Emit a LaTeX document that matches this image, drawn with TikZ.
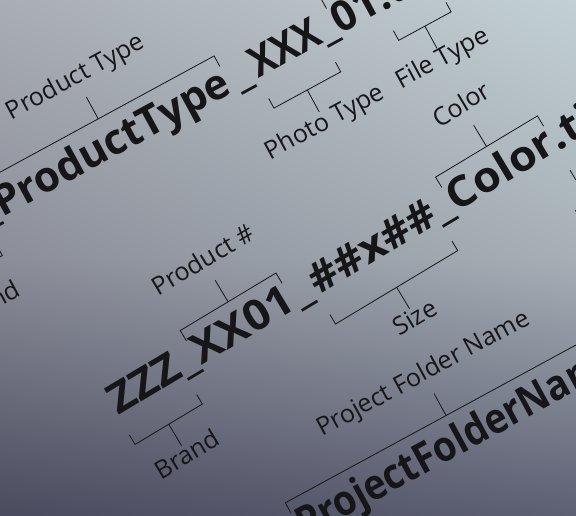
\documentclass[tikz,border=0pt]{standalone}
\usepackage{fontspec}
\setsansfont{Open Sans}
\newfontfamily\namewide{Open Sans}[FakeStretch=1.07]
\newfontfamily\namenarrow{Open Sans}[FakeStretch=0.9]
\usetikzlibrary{calc,shadings}
\definecolor{BgTopL}{HTML}{A9ADB4}
\definecolor{BgTopR}{HTML}{C2D0D4}
\definecolor{BgMidL}{HTML}{8B8E99}
\definecolor{BgMidR}{HTML}{A6AFB6}
\definecolor{BgLowL}{HTML}{4A4B5E}
\definecolor{BgLowR}{HTML}{5D5F73}
\definecolor{InkCol}{HTML}{161618}

% bracket over a part of a file name, with its label
\newcommand{\brkup}[3]{%
  \path (#1.north west) ++(0,12pt) coordinate (#1-l)
        (#1.north east) ++(0,12pt) coordinate (#1-r);
  \draw[brk] (#1.north west) -- (#1-l) -- (#1-r) coordinate[midway] (#1-m) -- (#1.north east);
  \path (#1-m) ++(0,25pt) node[lbl up, anchor=south] (#2) {#3};
  \draw[brk] (#1-m) -- (#2.south);}
% bracket under a part of a file name, with its label
\newcommand{\brkdown}[3]{%
  \path (#1.south west) ++(0,-11pt) coordinate (#1-l)
        (#1.south east) ++(0,-11pt) coordinate (#1-r);
  \draw[brk] (#1.south west) -- (#1-l) -- (#1-r) coordinate[midway] (#1-m) -- (#1.south east);
  \path (#1-m) ++(0,-25pt) node[lbl down, anchor=north] (#2) {#3};
  \draw[brk] (#1-m) -- (#2.north);}

\begin{document}
\begin{tikzpicture}[x=1pt, y=1pt,
    fname/.style={font=\sffamily\bfseries\fontsize{42}{44}\selectfont, text=InkCol,
      inner sep=0pt, text height=29pt, text depth=22pt},
    fname wide/.style={fname, font=\namewide\bfseries\fontsize{42}{44}\selectfont},
    fname narrow/.style={fname, font=\namenarrow\bfseries\fontsize{42}{44}\selectfont},
    lbl/.style={font=\sffamily\fontsize{25}{27}\selectfont, text=InkCol,
      inner xsep=0pt, text height=18pt, text depth=6pt},
    lbl up/.style={lbl, inner ysep=9pt},
    lbl down/.style={lbl, inner ysep=1pt},
    brk/.style={draw=InkCol, line width=0.8pt}]
  \useasboundingbox (0,0) rectangle (576,515);
  \clip (0,0) rectangle (576,515);
  % Background
  \shade[upper left=BgTopL, upper right=BgTopR, lower left=BgMidL, lower right=BgMidR]
    (0,257.5) rectangle (576,515);
  \shade[upper left=BgMidL, upper right=BgMidR, lower left=BgLowL, lower right=BgLowR]
    (0,0) rectangle (576,257.5);
  % Top name: ZZZ_ProductType_XXX_01.tif
  \begin{scope}[shift={(2,297)}, rotate=28.5, transform shape]
    \node[fname, anchor=base west] (ptA) at (0,0) {ProductType};
    \node[fname, anchor=base east] (usA0) at (ptA.base west) {\_};
    \node[fname, anchor=base east] (zzA) at (usA0.base west) {ZZZ};
    \node[fname, anchor=base west] (usA1) at ([xshift=6pt]ptA.base east) {\_};
    \node[fname narrow, anchor=base west] (xxA) at ([xshift=4pt]usA1.base east) {XXX};
    \node[fname, anchor=base west] (usA2) at (xxA.base east) {\_};
    \node[fname, anchor=base west] (sqA) at (usA2.base east) {01};
    \node[fname, anchor=base west] (tfA) at (sqA.base east) {.tif};
    \brkdown{zzA}{brA}{Brand}
    \brkup{ptA}{ptL}{Product Type}
    \brkdown{xxA}{phL}{Photo Type}
    \brkup{sqA}{sqL}{}
    \brkdown{tfA}{tfL}{File Type}
  \end{scope}
  % Middle name: ZZZ_XX01_##x##_Color.tif
  \begin{scope}[shift={(118,99)}, rotate=31, transform shape]
    \node[fname wide, anchor=base west] (zzB) at (0,0) {ZZZ};
    \node[fname wide, anchor=base west] (usB1) at (zzB.base east) {\_};
    \node[fname wide, anchor=base west] (nbB) at (usB1.base east) {XX01};
    \node[fname wide, anchor=base west] (usB2) at ([xshift=3pt]nbB.base east) {\_};
    \node[fname wide, anchor=base west] (szB) at ([xshift=3pt]usB2.base east) {\#\#x\#\#};
    \node[fname wide, anchor=base west] (usB3) at (szB.base east) {\_};
    \node[fname wide, anchor=base west] (clB) at (usB3.base east) {Color};
    \node[fname wide, anchor=base west] (tfB) at (clB.base east) {.tif};
    \brkdown{zzB}{brB}{Brand}
    \brkup{nbB}{nbL}{Product \#}
    \brkdown{szB}{szL}{Size}
    \brkup{clB}{clL}{Color}
    \brkdown{tfB}{tfL2}{File Type}
  \end{scope}
  % Bottom name: ProjectFolderName
  \begin{scope}[shift={(305,-24)}, rotate=28.5, transform shape]
    \node[fname narrow, anchor=base west] (pfC) at (0,0) {ProjectFolderName};
    \brkup{pfC}{pfL}{Project Folder Name}
  \end{scope}
\end{tikzpicture}
\end{document}
